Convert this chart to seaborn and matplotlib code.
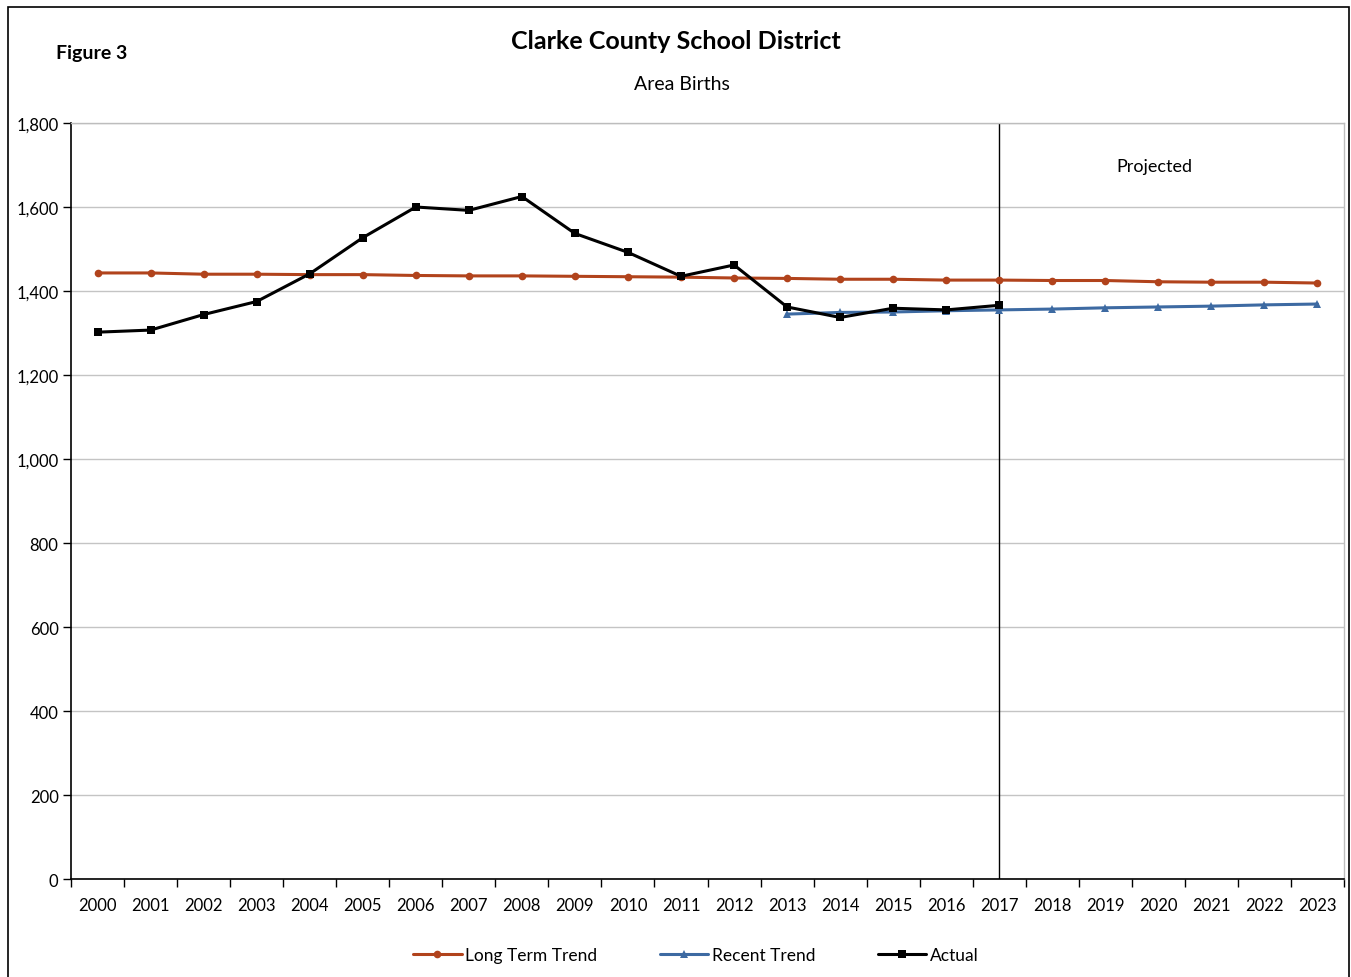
"""
Area births chart for Clarke County School District (Figure 3).
"""

import matplotlib
matplotlib.use("Agg")
import matplotlib.pyplot as plt
from matplotlib.lines import Line2D
from matplotlib.patches import Rectangle
from matplotlib.ticker import FuncFormatter
import numpy as np
import pandas as pd
import seaborn as sns

# Data
years = list(range(2000, 2024))
long_term = [1443, 1443, 1440, 1440, 1439, 1439, 1437, 1436, 1436, 1435, 1434, 1433,
             1431, 1430, 1428, 1428, 1426, 1426, 1425, 1425, 1422, 1421, 1421, 1419]
recent_years = list(range(2013, 2024))
recent = [1345, 1349, 1350, 1353, 1355, 1357, 1360, 1362, 1364, 1367, 1369]
actual_years = list(range(2000, 2018))
actual = [1302, 1307, 1344, 1375, 1441, 1527, 1600, 1592, 1625, 1537, 1492, 1435,
          1462, 1362, 1337, 1359, 1355, 1366]
y_ticks = list(range(0, 1801, 200))
projection_start = 2017

LT_COLOR = "#B1431C"
RT_COLOR = "#3D6AA2"
ACT_COLOR = "#000000"

sns.set_theme(style="white")
plt.rcParams["font.family"] = ["Lato", "DejaVu Sans"]
plt.rcParams["text.color"] = "#000000"
plt.rcParams["xtick.color"] = "#000000"
plt.rcParams["ytick.color"] = "#000000"

fig = plt.figure(figsize=(13.51, 9.78), dpi=100)
ax = fig.add_axes([0.0526, 0.1002, 0.9422, 0.7730])

# positions as category index
lt_df = pd.DataFrame({"x": [y - years[0] for y in years], "births": long_term})
rt_df = pd.DataFrame({"x": [y - years[0] for y in recent_years], "births": recent})
act_df = pd.DataFrame({"x": [y - years[0] for y in actual_years], "births": actual})

sns.lineplot(data=lt_df, x="x", y="births", ax=ax, color=LT_COLOR, linewidth=2.2,
             marker="o", markersize=5.5, markeredgewidth=0, zorder=3)
sns.lineplot(data=rt_df, x="x", y="births", ax=ax, color=RT_COLOR, linewidth=2.2,
             marker="^", markersize=6, markeredgewidth=0, zorder=3)
sns.lineplot(data=act_df, x="x", y="births", ax=ax, color=ACT_COLOR, linewidth=2.2,
             marker="s", markersize=6, markeredgewidth=0, zorder=4)

# projection divider
ax.axvline(projection_start - years[0], color="#000000", linewidth=1.0, zorder=2)
ax.text(projection_start - years[0] + 2.93, 1697, "Projected", fontsize=13,
        ha="center", va="center")

ax.set_xlim(-0.5, len(years) - 0.5)
ax.set_ylim(0, 1800)
ax.set_yticks(y_ticks)
ax.yaxis.set_major_formatter(FuncFormatter(lambda v, p: f"{int(v):,}"))
ax.grid(axis="y", color="#C4C4C4", linewidth=1.0)
ax.set_axisbelow(True)

# category labels between boundary ticks (Excel style)
ax.set_xticks(np.arange(len(years) + 1) - 0.5)
ax.set_xticklabels([])
ax.set_xticks(np.arange(len(years)), minor=True)
ax.set_xticklabels([str(y) for y in years], minor=True, fontsize=12)
ax.tick_params(axis="x", which="major", direction="out", length=6, width=1, color="#000000", bottom=True)
ax.tick_params(axis="x", which="minor", length=0, pad=13)
ax.tick_params(axis="y", direction="out", length=6, width=1, color="#000000", left=True,
               labelsize=12, pad=3)
ax.set_xlabel("")
ax.set_ylabel("")

for side in ["left", "bottom"]:
    ax.spines[side].set_color("#000000")
    ax.spines[side].set_linewidth(1.2)
for side in ["top", "right"]:
    ax.spines[side].set_color("#BDBDBD")
    ax.spines[side].set_linewidth(1.0)

# titles
fig.text(0.500, 0.958, "Clarke County School District", fontsize=18, fontweight="bold",
         ha="center", va="center")
fig.text(0.505, 0.914, "Area Births", fontsize=14, ha="center", va="center")
fig.text(0.0415, 0.945, "Figure 3", fontsize=14, fontweight="bold", ha="left", va="center")

# legend
handles = [
    Line2D([], [], color=LT_COLOR, linewidth=2.2, marker="o", markersize=5.5, markeredgewidth=0),
    Line2D([], [], color=RT_COLOR, linewidth=2.2, marker="^", markersize=6, markeredgewidth=0),
    Line2D([], [], color=ACT_COLOR, linewidth=2.2, marker="s", markersize=6, markeredgewidth=0),
]
fig.legend(handles, ["Long Term Trend", "Recent Trend", "Actual"], loc="center",
           bbox_to_anchor=(0.515, 0.022), ncol=3, frameon=False, fontsize=12.5,
           handlelength=2.8, handletextpad=0.2, columnspacing=3.6)

# outer chart border
fig.patches.append(Rectangle((8 / 1351, -0.05), 1341 / 1351, 1.05 - 8 / 978,
                             transform=fig.transFigure, fill=False,
                             edgecolor="#000000", linewidth=1.2))

fig.savefig("out.png", dpi=100)
